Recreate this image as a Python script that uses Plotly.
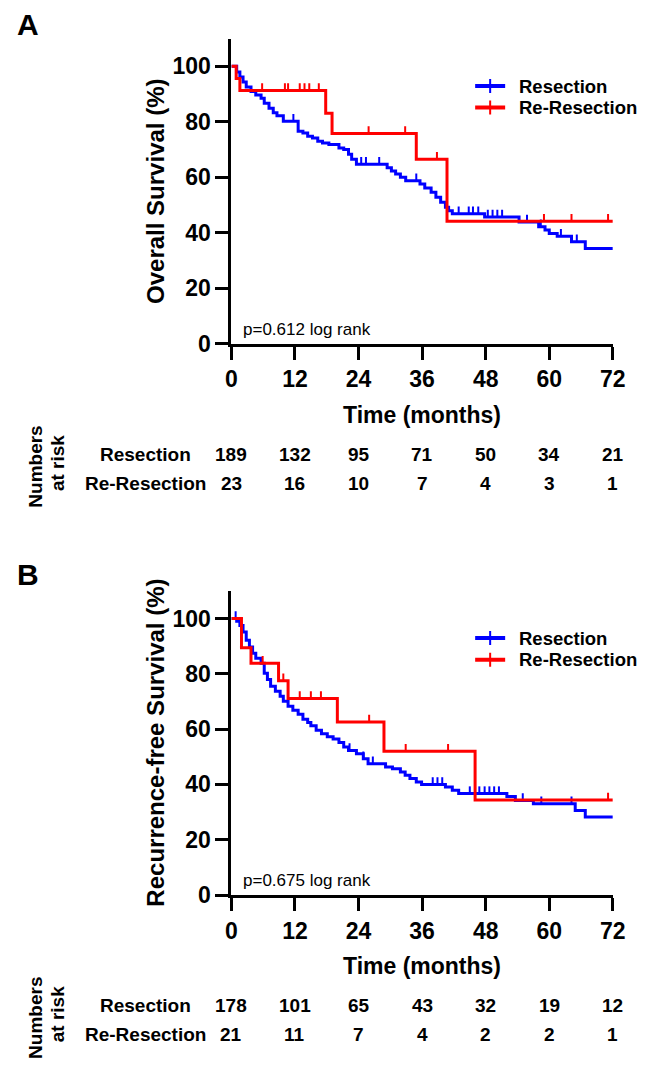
import numpy as np
import plotly.graph_objects as go

W, H = 645, 1067
BLUE = "#0000FF"
RED = "#FF0000"
FONT = "Liberation Sans, Arial, sans-serif"

time_ticks = [0, 12, 24, 36, 48, 60, 72]
groups = ["Resection", "Re-Resection"]

# A - overall survival (event times in months, survival % after the step)
os_res_t = [1.0, 1.6, 2.2, 2.8, 3.7, 4.6, 5.6, 6.2, 7.1, 7.9, 8.6, 9.8, 12.6, 13.5, 14.4,
            15.3, 16.3, 17.2, 18.4, 20.3, 21.2, 22.1, 22.7, 23.6, 29.4, 30.2, 31.0, 31.9,
            32.9, 35.6, 36.5, 37.7, 38.6, 39.5, 40.4, 41.0, 41.7, 47.8, 54.3, 58.0, 59.2,
            60.0, 61.5, 64.2, 66.8]
os_res_s = [98.0, 96.2, 94.4, 92.6, 90.9, 89.7, 88.5, 86.7, 84.9, 83.3, 82.2, 80.2, 76.6, 76.0, 74.8,
            74.2, 73.0, 72.4, 71.8, 70.6, 70.0, 68.3, 66.5, 64.7, 63.5, 62.3, 61.2, 60.0,
            58.8, 57.6, 56.2, 54.6, 52.8, 51.0, 49.2, 48.0, 46.9, 45.7, 43.9, 42.2, 41.0,
            39.8, 38.8, 36.8, 34.4]
os_res_cens = [11.7, 24.5, 25.4, 27.9, 34.9, 42.9, 44.8, 45.6, 46.6, 48.4, 49.3, 50.2, 51.1,
               55.8, 58.4, 62.2, 65.2]
os_rer_t = [0.9, 1.6, 17.8, 19.0, 34.9, 40.7]
os_rer_s = [95.6, 91.3, 83.1, 75.8, 66.5, 44.2]
os_rer_cens = [5.8, 10.1, 10.7, 12.9, 13.8, 14.7, 16.5, 25.9, 32.8, 38.8, 59.0, 64.2, 71.1]
os_risk_res = [189, 132, 95, 71, 50, 34, 21]
os_risk_rer = [23, 16, 10, 7, 4, 3, 1]

# B - recurrence-free survival
rfs_res_t = [1.0, 1.6, 2.2, 2.8, 3.4, 4.0, 4.6, 5.6, 6.2, 6.8, 7.4, 8.3, 9.2, 9.8, 10.7,
             11.6, 12.6, 13.5, 14.4, 15.0, 16.0, 17.0, 18.1, 19.2, 20.3, 21.2, 22.1, 23.6,
             24.9, 25.8, 29.1, 30.4, 31.9, 32.8, 33.7, 34.9, 35.9, 40.4, 41.7, 42.9, 52.0,
             53.6, 57.0, 64.9, 66.8]
rfs_res_s = [99.0, 97.5, 95.1, 92.1, 89.7, 87.4, 85.6, 83.8, 80.2, 77.9, 75.5, 73.7, 71.9, 70.1, 68.3,
             66.8, 65.4, 63.6, 62.4, 61.2, 59.6, 58.3, 57.2, 56.4, 55.2, 53.5, 52.3, 51.1,
             49.3, 47.5, 46.3, 45.7, 44.5, 43.3, 42.1, 40.9, 40.0, 39.1, 37.9, 36.7, 35.6,
             34.2, 33.0, 30.6, 28.2]
rfs_res_cens = [0.8, 22.3, 24.9, 26.7, 38.0, 38.9, 39.8, 45.0, 46.8, 47.8, 48.7, 49.6, 50.5,
                55.0, 58.5, 64.2]
rfs_rer_t = [1.9, 3.7, 8.9, 10.7, 20.0, 28.8, 46.0]
rfs_rer_s = [89.4, 83.8, 77.5, 71.1, 62.6, 52.0, 34.4]
rfs_rer_cens = [5.9, 9.8, 12.9, 15.0, 16.9, 26.0, 32.9, 40.9, 71.1]
rfs_risk_res = [178, 101, 65, 43, 32, 19, 12]
rfs_risk_rer = [21, 11, 7, 4, 2, 2, 1]


def px(x):
    return x / W


def py(y):
    return 1 - y / H


def step_value(times, surv, t):
    tt = np.array([0] + times)
    ss = np.array([100] + surv)
    idx = np.searchsorted(tt, t, side="right") - 1
    return ss[idx]


fig = go.Figure()


def add_km(times, surv, cens, color, xa, ya):
    fig.add_trace(go.Scatter(
        x=[0] + times + [72], y=[100] + surv + [surv[-1]],
        mode="lines", line=dict(color=color, width=3, shape="hv"),
        xaxis=xa, yaxis=ya, showlegend=False, hoverinfo="skip"))
    cy = step_value(times, surv, np.array(cens))
    fig.add_trace(go.Scatter(
        x=cens, y=cy, mode="markers", marker=dict(size=0.1, color=color, opacity=0),
        error_y=dict(type="data", symmetric=False, array=[2.6] * len(cens),
                     arrayminus=[0] * len(cens), color=color, thickness=2, width=0),
        xaxis=xa, yaxis=ya, showlegend=False, hoverinfo="skip"))


# legend swatch only; the group name is written next to it as an annotation
# so the long "Re-Resection" can run to the page edge like in the original
def add_legend(color, xa, ya, leg):
    fig.add_trace(go.Scatter(
        x=[None], y=[None], mode="lines+markers", name="",
        line=dict(color=color, width=4),
        marker=dict(symbol="line-ns", size=10, line=dict(color=color, width=2)),
        xaxis=xa, yaxis=ya, legend=leg))


add_km(os_res_t, os_res_s, os_res_cens, BLUE, "x", "y")
add_km(os_rer_t, os_rer_s, os_rer_cens, RED, "x", "y")
add_km(rfs_res_t, rfs_res_s, rfs_res_cens, BLUE, "x2", "y2")
add_km(rfs_rer_t, rfs_rer_s, rfs_rer_cens, RED, "x2", "y2")
add_legend(BLUE, "x", "y", "legend")
add_legend(RED, "x", "y", "legend2")
add_legend(BLUE, "x2", "y2", "legend3")
add_legend(RED, "x2", "y2", "legend4")

xdom = [px(224), px(617)]
tickfont = dict(family=FONT, size=23, color="black", weight="bold")
xax = dict(domain=xdom, range=[0, 72], tickvals=time_ticks, showline=True, linewidth=3,
           linecolor="black", ticks="outside", ticklen=13, tickwidth=3, tickcolor="black",
           showgrid=False, zeroline=False, tickfont=tickfont, fixedrange=True)
yax = dict(range=[0, 110], tickvals=[0, 20, 40, 60, 80, 100], showline=True, linewidth=3,
           linecolor="black", ticks="outside", ticklen=13, tickwidth=3, tickcolor="black",
           showgrid=False, zeroline=False, tickfont=tickfont, fixedrange=True)

legfont = dict(family=FONT, size=19, color="black", weight="bold")


def leg(yc):
    return dict(x=px(470), y=py(yc), xanchor="left", yanchor="middle", font=legfont,
                bgcolor="rgba(0,0,0,0)")


fig.update_layout(
    width=W, height=H, margin=dict(l=0, r=0, t=0, b=0),
    paper_bgcolor="white", plot_bgcolor="white",
    xaxis=dict(xax, anchor="y"),
    yaxis=dict(yax, domain=[py(340), py(31)], anchor="x"),
    xaxis2=dict(xax, anchor="y2"),
    yaxis2=dict(yax, domain=[py(898), py(590)], anchor="x2"),
    legend=leg(79), legend2=leg(101), legend3=leg(638), legend4=leg(660),
)

annots = []


def txt(text, x, y, size, bold=True, xref="paper", angle=0, xanchor="center"):
    annots.append(dict(text=text, x=x, y=y, xref=xref, yref="paper", showarrow=False,
                       xanchor=xanchor, yanchor="middle", textangle=angle,
                       font=dict(family=FONT, size=size, color="black",
                                 weight="bold" if bold else "normal")))


panels = [
    ("A", 17, 31, 340, "Overall Survival (%)", "p=0.612 log rank", os_risk_res, os_risk_rer, "x"),
    ("B", 573, 590, 898, "Recurrence-free Survival (%)", "p=0.675 log rank", rfs_risk_res, rfs_risk_rer, "x2"),
]
for letter, ly, top, base, ytitle, ptext, risk_res, risk_rer, xref in panels:
    txt(letter, px(14), py(ly), 30)
    txt(ytitle, px(146), py((top + base) / 2), 24, angle=-90)
    txt(ptext, px(234), py(base - 15), 17, bold=False, xanchor="left")
    txt("Time (months)", px(420.5), py(base + 72), 23)
    # legend names
    txt(groups[0], px(518), py(top + 48), 18.5, xanchor="left")
    txt(groups[1], px(518), py(top + 70), 18.5, xanchor="left")
    # numbers at risk
    txt(groups[0], px(136), py(base + 112), 19)
    txt(groups[1], px(136), py(base + 141), 19)
    txt("Numbers", px(22), py(base + 124), 19, angle=-90)
    txt("at risk", px(45), py(base + 121), 19, angle=-90)
    for t, a, b in zip(time_ticks, risk_res, risk_rer):
        txt(str(a), t, py(base + 112), 19, xref=xref)
        txt(str(b), t, py(base + 141), 19, xref=xref)

fig.update_layout(annotations=annots)
fig.write_html("out.html")
